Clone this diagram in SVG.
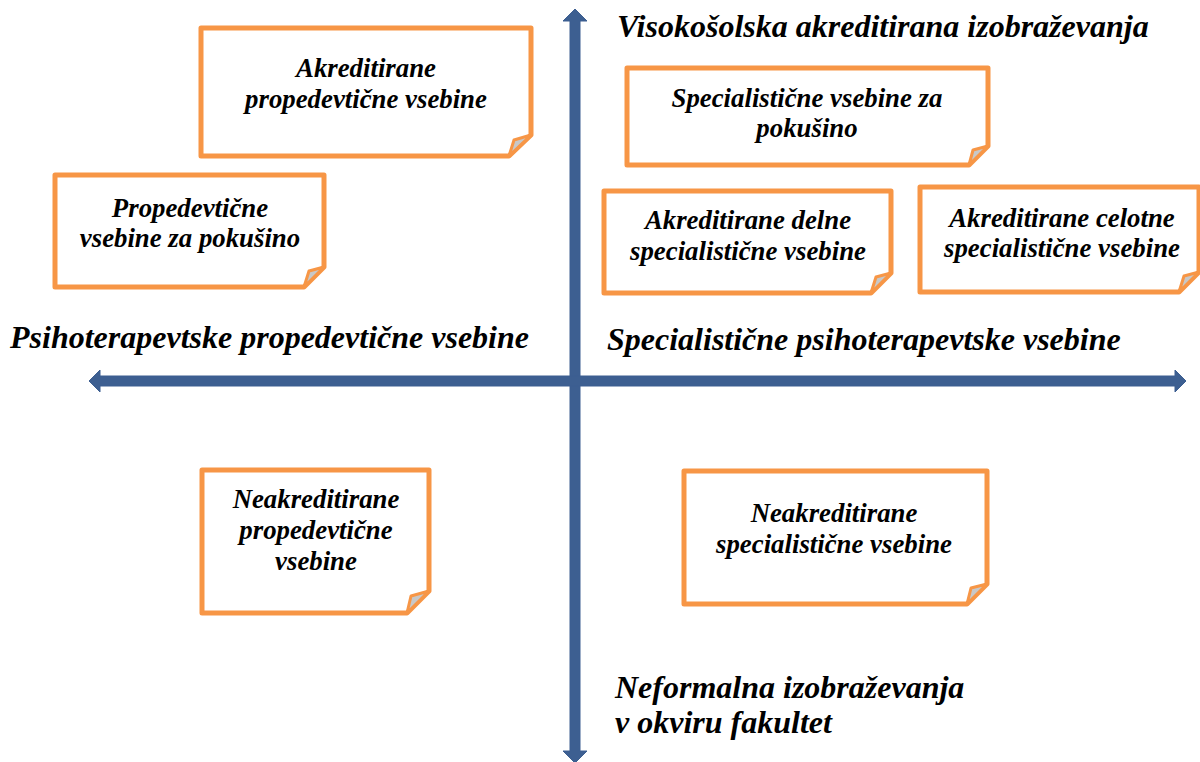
<svg xmlns="http://www.w3.org/2000/svg" width="1200" height="762" viewBox="0 0 1200 762">
<style>
.note{fill:#fff;stroke:#F79646;stroke-width:5;stroke-linejoin:round}
.fold{fill:#c8c8c8;stroke:#F79646;stroke-width:3;stroke-linejoin:round}
.t{font-family:"Liberation Serif","Times New Roman",serif;font-weight:bold;font-style:italic;fill:#000}
.bt{font-size:26.8px;text-anchor:middle}
.ax{font-size:32px}
.axis{fill:#3D5F91;stroke:#3D5F91;stroke-width:1;stroke-linejoin:round}
</style>
<rect width="1200" height="762" fill="#fff"/>
<g id="connectors">
<polygon class="axis" points="575,9 587,21 580,21 580,751 587,751 575,763 563,751 570,751 570,21 563,21"/>
<polygon class="axis" points="1186,381 1175,370 1175,376 100,376 100,370 89,381 100,392 100,386 1175,386 1175,392"/>
</g>
<g id="label-top"><text class="t ax" x="617" y="37">Visokošolska akreditirana izobraževanja</text></g>
<g id="label-left"><text class="t ax" x="10" y="348">Psihoterapevtske propedevtične vsebine</text></g>
<g id="label-right"><text class="t ax" x="607" y="350">Specialistične psihoterapevtske vsebine</text></g>
<g id="label-bottom"><text class="t ax" x="615" y="698">Neformalna izobraževanja</text><text class="t ax" x="615" y="733">v okviru fakultet</text></g>

<g id="n1">
<path class="note" d="M201,28 H531 V135 L509,156 H201 Z"/>
<polygon class="fold" points="531,135 514,140 509,156"/>
<text class="t bt" x="366" y="77">Akreditirane</text>
<text class="t bt" x="366" y="108">propedevtične vsebine</text>
</g>
<g id="n2">
<path class="note" d="M55,175 H324 V267 L304,287 H55 Z"/>
<polygon class="fold" points="324,267 309,271 304,287"/>
<text class="t bt" x="190" y="217">Propedevtične</text>
<text class="t bt" x="190" y="247">vsebine za pokušino</text>
</g>
<g id="n3">
<path class="note" d="M627,68 H988 V146 L969,165 H627 Z"/>
<polygon class="fold" points="988,146 973,150 969,165"/>
<text class="t bt" x="807" y="107">Specialistične vsebine za</text>
<text class="t bt" x="807" y="137">pokušino</text>
</g>
<g id="n4">
<path class="note" d="M604,191 H891 V273 L871,293 H604 Z"/>
<polygon class="fold" points="891,273 876,277 871,293"/>
<text class="t bt" x="748" y="229">Akreditirane delne</text>
<text class="t bt" x="748" y="260">specialistične vsebine</text>
</g>
<g id="n5">
<path class="note" d="M920,187 H1199 V272 L1179,292 H920 Z"/>
<polygon class="fold" points="1199,272 1184,276 1179,292"/>
<text class="t bt" x="1062" y="227">Akreditirane celotne</text>
<text class="t bt" x="1062" y="257">specialistične vsebine</text>
</g>
<g id="n6">
<path class="note" d="M202,470 H429 V591 L407,613 H202 Z"/>
<polygon class="fold" points="429,591 411,596 407,613"/>
<text class="t bt" x="316" y="508">Neakreditirane</text>
<text class="t bt" x="316" y="539">propedevtične</text>
<text class="t bt" x="316" y="570">vsebine</text>
</g>
<g id="n7">
<path class="note" d="M684,471 H987 V584 L967,604 H684 Z"/>
<polygon class="fold" points="987,584 971,588 967,604"/>
<text class="t bt" x="834" y="522">Neakreditirane</text>
<text class="t bt" x="834" y="553">specialistične vsebine</text>
</g>
</svg>
